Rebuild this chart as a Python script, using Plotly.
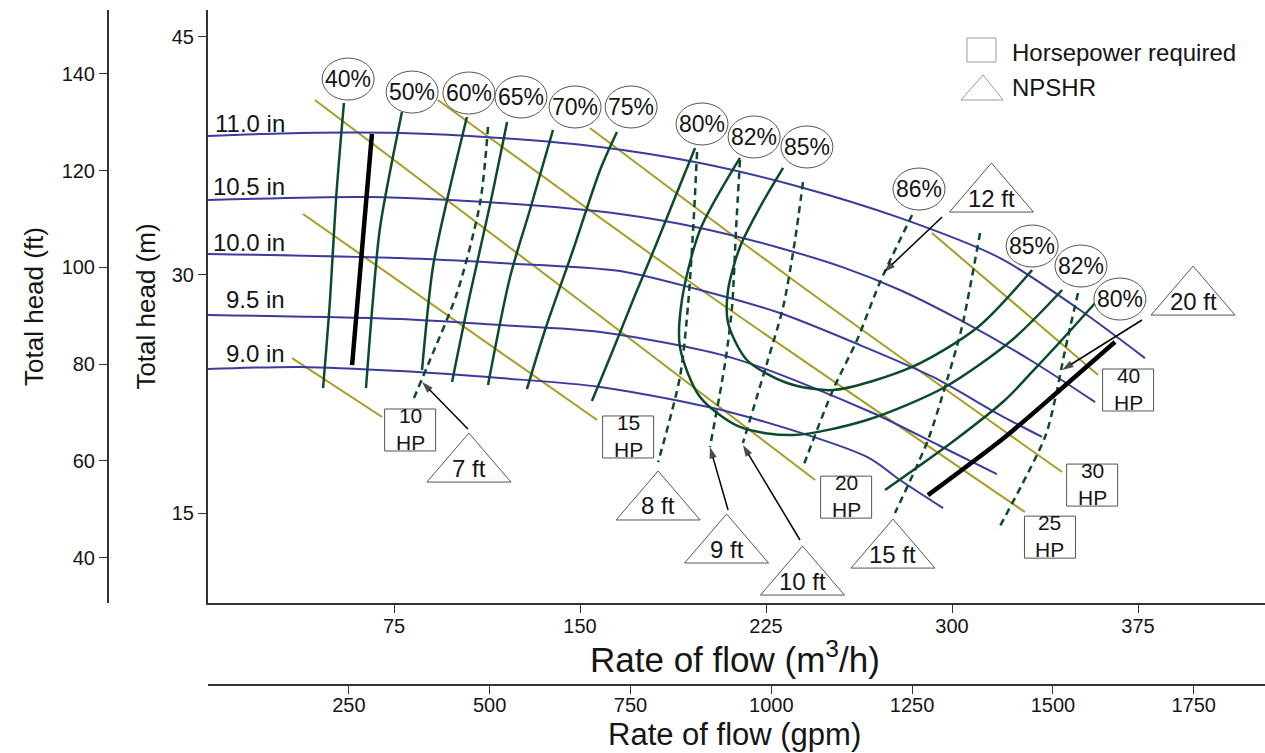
import plotly.graph_objects as go

# ---------------- data (flow in m3/h, head in m) ----------------
# Head-capacity curves, one per impeller diameter
dia_labels = ["11.0 in", "10.5 in", "10.0 in", "9.5 in", "9.0 in"]
q_d110 = [0, 37.1, 77.4, 117.7, 158.1, 198.4, 238.7, 279.0, 319.4, 351.6, 377.8]
h_d110 = [38.75, 38.94, 38.94, 38.63, 38.06, 37.05, 35.54, 33.59, 31.06, 27.79, 24.76]
q_d105 = [0, 65.3, 117.7, 166.1, 198.4, 230.6, 256.9, 279.0, 303.2, 331.5, 357.7]
h_d105 = [34.72, 34.91, 34.53, 33.84, 32.96, 31.70, 30.43, 29.05, 27.16, 24.64, 21.99]
q_d100 = [0, 77.4, 117.7, 166.1, 198.4, 230.6, 262.9, 292.3, 319.4, 336.3]
h_d100 = [31.32, 31.06, 30.75, 30.25, 29.05, 27.60, 25.58, 23.57, 21.17, 19.79]
q_d095 = [0, 77.4, 117.7, 158.1, 211.7, 268.1, 295.2, 318.1]
h_d095 = [27.47, 27.22, 26.84, 26.40, 24.76, 21.30, 19.22, 17.45]
q_d090 = [0, 37.1, 77.4, 117.7, 158.1, 211.7, 265.7, 279.0, 296.4]
h_d090 = [24.07, 24.20, 23.94, 23.50, 22.94, 21.30, 18.53, 17.08, 15.31]

# Iso-efficiency curves
q_e40 = [54.8, 51.6, 49.2, 46.4]
h_e40 = [40.83, 34.72, 28.42, 22.87]
q_e50 = [78.2, 69.4, 66.5, 63.7]
h_e50 = [40.26, 33.02, 28.42, 22.87]
q_e60 = [104.4, 96.4, 90.7, 86.3]
h_e60 = [39.95, 34.72, 30.50, 24.01]
q_e65 = [120.6, 113.7, 105.6, 98.4]
h_e65 = [39.63, 34.40, 28.73, 23.25]
q_e70 = [139.1, 129.8, 121.8, 112.9]
h_e70 = [39.13, 34.09, 29.87, 23.06]
q_e75 = [164.9, 158.1, 147.2, 135.9, 128.6]
h_e75 = [39.00, 36.61, 31.57, 26.53, 22.81]
q_e80a = [196.4, 188.7, 180.6, 172.2, 163.3, 154.8]
h_e80a = [37.99, 35.03, 31.88, 28.73, 25.27, 22.05]
q_e80b = [273.0, 301.2, 321.4, 331.5, 343.5, 357.7]
h_e80b = [16.45, 19.60, 22.12, 23.76, 25.77, 28.23]
q_e82 = [214.5, 198.4, 191.1, 190.3, 198.4, 214.5, 235.9, 265.7, 297.2, 324.2, 344.4]
h_e82 = [37.37, 32.83, 28.42, 25.46, 22.31, 20.42, 19.91, 20.86, 22.94, 25.90, 29.05]
q_e85 = [231.9, 222.6, 214.5, 209.7, 209.7, 217.3, 233.5, 252.0, 283.9, 310.5, 332.3]
h_e85 = [36.74, 34.28, 31.76, 29.05, 26.97, 24.64, 23.19, 22.75, 24.20, 26.72, 30.31]

# NPSH required curves
npsh_labels = ["7 ft", "8 ft", "9 ft", "10 ft", "12 ft", "15 ft", "20 ft"]
q_n7 = [112.9, 109.7, 100.4, 89.5, 82.7]
h_n7 = [39.32, 34.53, 28.86, 24.64, 22.12]
q_n8 = [197.2, 195.6, 193.5, 190.3, 181.5]
h_n8 = [37.74, 32.83, 27.98, 23.57, 18.21]
q_n9 = [214.5, 212.9, 211.3, 208.5, 202.4]
h_n9 = [37.24, 32.83, 27.98, 24.45, 19.16]
q_n10 = [239.9, 236.7, 231.9, 225.4, 215.7]
h_n10 = [35.85, 32.20, 27.98, 24.45, 19.41]
q_n12 = [283.9, 271.0, 261.7, 252.0, 239.9]
h_n12 = [33.77, 29.55, 25.90, 22.75, 17.90]
q_n15 = [311.3, 304.0, 298.0, 290.3, 277.0]
h_n15 = [32.64, 26.72, 23.38, 19.60, 15.00]
q_n20 = [350.8, 345.6, 341.5, 337.5, 318.5]
h_n20 = [28.86, 25.27, 22.12, 19.79, 13.93]

# Horsepower required lines
hp_labels = ["10", "15", "20", "25", "30", "40"]
q_hp10 = [33.9, 70.2]
h_hp10 = [24.76, 21.05]
q_hp15 = [38.3, 156.9]
h_hp15 = [33.84, 20.86]
q_hp20 = [43.1, 158.1, 244.8]
h_hp20 = [41.02, 27.41, 17.08]
q_hp25 = [92.7, 191.5, 329.4]
h_hp25 = [41.02, 29.87, 15.06]
q_hp30 = [154.0, 235.9, 344.4]
h_hp30 = [39.26, 29.68, 17.58]
q_hp40 = [291.9, 358.9]
h_hp40 = [32.64, 23.69]

# Operating range limits
q_lim_low = [66.1, 58.1]
h_lim_low = [38.88, 24.32]
q_lim_high = [290.3, 321.4, 343.5, 365.7]
h_lim_high = [16.13, 19.79, 22.75, 25.77]

# Axis scales
q_ticks = [75, 150, 225, 300, 375]
gpm_ticks = [250, 500, 750, 1000, 1250, 1500, 1750]
m_ticks = [15, 30, 45]
ft_ticks = [40, 60, 80, 100, 120, 140]
GPM_PER_M3H = 4.40287
FT_PER_M = 3.28084
Q_RANGE = [0, 426.2]
H_RANGE = [9.33, 46.69]

# ---------------- label anchors (data coordinates) ----------------
dia_label_pos = [(31.9, 39.57), (31.9, 35.54), (31.9, 32.07), (31.9, 28.48), (31.9, 25.08)]
eff_tags = [
    ("40%", 56.5, 42.34), ("50%", 82.3, 41.52), ("60%", 105.2, 41.46),
    ("65%", 126.2, 41.21), ("70%", 148.0, 40.58), ("75%", 170.6, 40.58),
    ("80%", 199.2, 39.51), ("82%", 220.2, 38.69), ("85%", 241.5, 38.06),
    ("86%", 286.7, 35.41), ("85%", 332.3, 31.82), ("82%", 352.0, 30.56),
    ("80%", 367.7, 28.48),
]
hp_tag_pos = [(81.5, 20.23), (169.4, 19.79), (257.3, 16.00),
              (339.5, 13.48), (356.5, 16.76), (371.0, 22.75)]
npsh_tag_pos = [(105.2, 16.95), (181.5, 14.56), (209.1, 11.85), (239.7, 9.83),
                (315.9, 33.96), (276.2, 11.53), (397.2, 27.47)]
# leader arrows from NPSH tags: (tail q, tail h, head q, head h)
npsh_arrows = [
    (104.8, 20.29, 86.3, 23.25),
    (209.7, 15.19, 202.4, 19.16),
    (238.7, 13.30, 215.7, 19.28),
    (296.0, 33.65, 272.6, 30.18),
    (376.6, 27.16, 344.4, 24.01),
]

# ---------------- styling ----------------
BLUE = "#3b3b9f"
GREEN = "#0d4a2c"
OLIVE = "#a89d22"
FONT = "Liberation Sans, Arial, Helvetica, sans-serif"
NARROW = "Liberation Sans Narrow, Arial Narrow, Liberation Sans, Arial, sans-serif"
TXT = "#151515"

fig = go.Figure()


def curve(q, h, color, width, dash="solid"):
    fig.add_trace(go.Scatter(
        x=q, y=h, mode="lines", xaxis="x", yaxis="y",
        line=dict(color=color, width=width, dash=dash, shape="spline", smoothing=0.8),
        hoverinfo="skip", showlegend=False,
    ))


for q, h in [(q_hp10, h_hp10), (q_hp15, h_hp15), (q_hp20, h_hp20),
             (q_hp25, h_hp25), (q_hp30, h_hp30), (q_hp40, h_hp40)]:
    curve(q, h, OLIVE, 2)

for q, h in [(q_d110, h_d110), (q_d105, h_d105), (q_d100, h_d100),
             (q_d095, h_d095), (q_d090, h_d090)]:
    curve(q, h, BLUE, 2)

for q, h in [(q_e40, h_e40), (q_e50, h_e50), (q_e60, h_e60), (q_e65, h_e65),
             (q_e70, h_e70), (q_e75, h_e75), (q_e80a, h_e80a), (q_e80b, h_e80b),
             (q_e82, h_e82), (q_e85, h_e85)]:
    curve(q, h, GREEN, 2.5)

for q, h in [(q_n7, h_n7), (q_n8, h_n8), (q_n9, h_n9), (q_n10, h_n10),
             (q_n12, h_n12), (q_n15, h_n15), (q_n20, h_n20)]:
    curve(q, h, GREEN, 2.5, dash="7px,5px")

curve(q_lim_low, h_lim_low, "#000000", 4.5)
curve(q_lim_high, h_lim_high, "#000000", 4.5)

# leader arrows: a line with an arrow marker at the head end
for tq, th, hq, hh in npsh_arrows:
    fig.add_trace(go.Scatter(
        x=[tq, hq], y=[th, hh], mode="lines+markers", xaxis="x", yaxis="y",
        line=dict(color="#000000", width=1.5),
        marker=dict(symbol=["circle", "arrow"], size=[0, 12], color="#000000",
                    angleref="previous", line=dict(width=0)),
        hoverinfo="skip", showlegend=False,
    ))

shapes = []
annotations = []

# impeller diameter labels
for lab, (q, h) in zip(dia_labels, dia_label_pos):
    annotations.append(dict(x=q, y=h, xref="x", yref="y", text=lab, showarrow=False,
                            xanchor="right", yanchor="middle",
                            font=dict(family=FONT, size=24, color=TXT)))

# efficiency tags in ellipses
for lab, q, h in eff_tags:
    shapes.append(dict(type="circle", xref="x", yref="y", xsizemode="pixel", ysizemode="pixel",
                       xanchor=q, yanchor=h, x0=-26, x1=26, y0=-21, y1=21,
                       line=dict(color="#555555", width=1), fillcolor="white"))
    annotations.append(dict(x=q, y=h, xref="x", yref="y", text=lab, showarrow=False,
                            xanchor="center", yanchor="middle",
                            font=dict(family=FONT, size=23, color=TXT)))

# horsepower tags in boxes
for lab, (q, h) in zip(hp_labels, hp_tag_pos):
    shapes.append(dict(type="rect", xref="x", yref="y", xsizemode="pixel", ysizemode="pixel",
                       xanchor=q, yanchor=h, x0=-25.5, x1=25.5, y0=-21, y1=21,
                       line=dict(color="#555555", width=1), fillcolor="white"))
    annotations.append(dict(x=q, y=h, xref="x", yref="y", text=lab + "<br>HP",
                            showarrow=False, xanchor="center", yanchor="middle",
                            yshift=1, borderpad=0,
                            font=dict(family=FONT, size=21, color=TXT)))

# NPSH tags in triangles
for lab, (q, h) in zip(npsh_labels, npsh_tag_pos):
    shapes.append(dict(type="path", xref="x", yref="y", xsizemode="pixel", ysizemode="pixel",
                       xanchor=q, yanchor=h, path="M -42,0 L 0,49 L 42,0 Z",
                       line=dict(color="#555555", width=1), fillcolor="white"))
    annotations.append(dict(x=q, y=h, xref="x", yref="y", text=lab, showarrow=False,
                            xanchor="center", yanchor="middle", yshift=14,
                            font=dict(family=FONT, size=24, color=TXT)))

# key for the tag shapes
shapes.append(dict(type="rect", xref="paper", yref="paper",
                   x0=0.7424, x1=0.7675, y0=0.9230, y1=0.9585,
                   line=dict(color="#9a9a9a", width=1), fillcolor="white"))
shapes.append(dict(type="path", xref="paper", yref="paper",
                   path="M 0.7372,0.8667 L 0.7563,0.9037 L 0.7736,0.8667 Z",
                   line=dict(color="#9a9a9a", width=1), fillcolor="white"))
annotations.append(dict(x=0.7796, y=0.9363, xref="paper", yref="paper",
                        text="Horsepower required", showarrow=False,
                        xanchor="left", yanchor="middle",
                        font=dict(family=FONT, size=24, color=TXT)))
annotations.append(dict(x=0.7796, y=0.8859, xref="paper", yref="paper",
                        text="NPSHR", showarrow=False,
                        xanchor="left", yanchor="middle",
                        font=dict(family=FONT, size=24, color=TXT)))

# flow axis titles, placed under each flow scale
annotations.append(dict(x=0.5419, y=0.0415, xref="paper", yref="paper",
                        text="Rate of flow (m<sup>3</sup>/h)", showarrow=False,
                        xanchor="center", yanchor="middle",
                        font=dict(family=FONT, size=35, color=TXT)))
annotations.append(dict(x=0.5419, y=-0.0726, xref="paper", yref="paper",
                        text="Rate of flow (gpm)", showarrow=False,
                        xanchor="center", yanchor="middle",
                        font=dict(family=FONT, size=31, color=TXT)))

axis_common = dict(showgrid=False, zeroline=False, showline=True, linecolor="#333333",
                   linewidth=2, ticks="outside", ticklen=8, tickwidth=1, tickcolor="#333333",
                   tickfont=dict(family=NARROW, size=20, color=TXT), automargin=False)

fig.update_layout(
    width=1265, height=753,
    margin=dict(l=108, r=0, t=10, b=68),
    paper_bgcolor="white", plot_bgcolor="white",
    showlegend=False,
    shapes=shapes, annotations=annotations,
    xaxis=dict(domain=[100 / 1157, 1], range=Q_RANGE, tickvals=q_ticks, anchor="y",
               ticklabelstandoff=-4, **axis_common),
    xaxis2=dict(overlaying="x", anchor="free", position=0, side="bottom",
                range=[Q_RANGE[0] * GPM_PER_M3H, Q_RANGE[1] * GPM_PER_M3H],
                tickvals=gpm_ticks, ticklabelstandoff=-6, **axis_common),
    yaxis=dict(domain=[82 / 675, 1], range=H_RANGE, tickvals=m_ticks, anchor="x",
               title=dict(text="Total head (m)", standoff=9,
                          font=dict(family=FONT, size=26, color=TXT)),
               **axis_common),
    yaxis2=dict(overlaying="y", anchor="free", position=0, side="left",
                range=[H_RANGE[0] * FT_PER_M, H_RANGE[1] * FT_PER_M],
                tickvals=ft_ticks,
                title=dict(text="Total head (ft)", standoff=10,
                           font=dict(family=FONT, size=26, color=TXT)),
                **axis_common),
)

# invisible traces so the secondary axes are drawn
fig.add_trace(go.Scatter(x=[None], y=[None], xaxis="x2", yaxis="y", showlegend=False, hoverinfo="skip"))
fig.add_trace(go.Scatter(x=[None], y=[None], xaxis="x", yaxis="y2", showlegend=False, hoverinfo="skip"))

fig.write_html("out.html")
